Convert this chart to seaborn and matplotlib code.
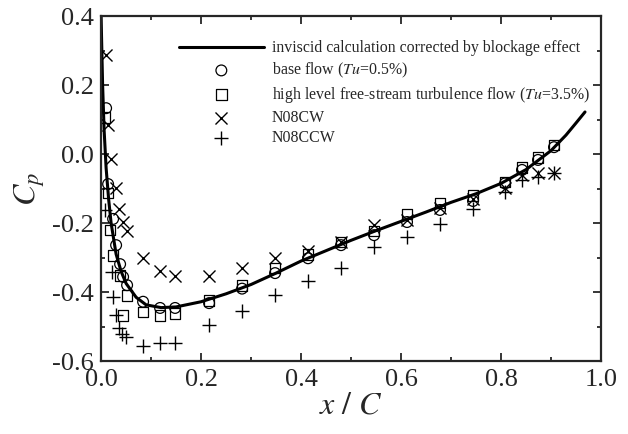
import numpy as np
import pandas as pd
import matplotlib
matplotlib.use('Agg')
import matplotlib.pyplot as plt
import seaborn as sns
from matplotlib.ticker import MultipleLocator

# curva no viscosa (corregida por bloqueo)
x_inv = [0, 0.001, 0.003, 0.006, 0.01, 0.015, 0.02, 0.03, 0.04, 0.05, 0.07, 0.09,
         0.12, 0.15, 0.2, 0.25, 0.3, 0.35, 0.4, 0.45, 0.5, 0.55, 0.6, 0.65, 0.7,
         0.75, 0.8, 0.85, 0.9, 0.93, 0.95, 0.968]
cp_inv = [0.40, 0.33, 0.20, 0.07, -0.04, -0.13, -0.20, -0.29, -0.34, -0.375, -0.415, -0.437,
          -0.445, -0.443, -0.428, -0.405, -0.378, -0.345, -0.31, -0.28, -0.25, -0.222, -0.195, -0.168, -0.14,
          -0.115, -0.085, -0.045, 0.01, 0.055, 0.09, 0.122]

# base flow (Tu=0.5%)
x_base = [0.010, 0.014, 0.024, 0.030, 0.038, 0.044, 0.052, 0.084, 0.118, 0.148, 0.216, 0.282,
          0.348, 0.414, 0.480, 0.546, 0.612, 0.678, 0.744, 0.808, 0.842, 0.874, 0.906]
cp_base = [0.133, -0.087, -0.188, -0.264, -0.319, -0.356, -0.380, -0.428, -0.446, -0.446, -0.432, -0.390,
           -0.345, -0.302, -0.264, -0.235, -0.197, -0.162, -0.136, -0.085, -0.046, -0.017, 0.020]

# alta turbulencia (Tu=3.5%)
x_tu = [0.008, 0.014, 0.018, 0.024, 0.038, 0.052, 0.044, 0.084, 0.118, 0.148, 0.216, 0.282,
        0.348, 0.414, 0.480, 0.546, 0.612, 0.678, 0.744, 0.808, 0.842, 0.874, 0.906]
cp_tu = [0.107, -0.113, -0.220, -0.295, -0.351, -0.409, -0.467, -0.458, -0.467, -0.461, -0.425, -0.380,
         -0.330, -0.290, -0.255, -0.223, -0.174, -0.142, -0.119, -0.081, -0.038, -0.011, 0.026]

# N08CW
x_cw = [0.010, 0.014, 0.020, 0.030, 0.036, 0.044, 0.052, 0.084, 0.118, 0.148, 0.216, 0.282,
        0.348, 0.414, 0.480, 0.546, 0.612, 0.678, 0.744, 0.808, 0.842, 0.874, 0.906]
cp_cw = [0.287, 0.084, -0.014, -0.099, -0.160, -0.197, -0.223, -0.302, -0.340, -0.352, -0.354, -0.330,
         -0.302, -0.281, -0.255, -0.206, -0.191, -0.157, -0.131, -0.099, -0.061, -0.055, -0.055]

# N08CCW
x_ccw = [0.008, 0.022, 0.024, 0.030, 0.036, 0.042, 0.050, 0.084, 0.118, 0.148, 0.216, 0.282,
         0.348, 0.414, 0.480, 0.546, 0.612, 0.678, 0.744, 0.808, 0.842, 0.874, 0.906]
cp_ccw = [-0.162, -0.342, -0.414, -0.467, -0.504, -0.522, -0.530, -0.555, -0.547, -0.547, -0.496, -0.455,
          -0.409, -0.368, -0.330, -0.270, -0.240, -0.203, -0.159, -0.110, -0.075, -0.067, -0.055]

sns.set_style("ticks")
plt.rcParams['font.family'] = ['Liberation Serif', 'DejaVu Serif']
plt.rcParams['mathtext.fontset'] = 'stix'

fig = plt.figure(figsize=(6.28, 4.34), dpi=100)
ax = fig.add_axes([0.161, 0.168, 0.796, 0.795])

sns.lineplot(x=x_inv, y=cp_inv, color='black', linewidth=2.2, sort=False, ax=ax,
             label='inviscid calculation corrected by blockage effect')
sns.scatterplot(x=x_base, y=cp_base, marker='o', s=60, facecolor='none', edgecolor='black',
                linewidth=0.9, ax=ax, label='base flow ($Tu$=0.5%)')
sns.scatterplot(x=x_tu, y=cp_tu, marker='s', s=60, facecolor='none', edgecolor='black',
                linewidth=0.9, ax=ax, label='high level free-stream turbulence flow ($Tu$=3.5%)')
sns.scatterplot(x=x_cw, y=cp_cw, marker='x', s=75, color='black', linewidth=1.0, ax=ax,
                label='N08CW')
sns.scatterplot(x=x_ccw, y=cp_ccw, marker='+', s=95, color='black', linewidth=1.0, ax=ax,
                label='N08CCW')

ax.set_xlim(0, 1.0)
ax.set_ylim(-0.6, 0.4)
ax.xaxis.set_major_locator(MultipleLocator(0.2))
ax.xaxis.set_minor_locator(MultipleLocator(0.1))
ax.yaxis.set_major_locator(MultipleLocator(0.2))
ax.yaxis.set_minor_locator(MultipleLocator(0.1))
ax.xaxis.set_major_formatter(plt.FuncFormatter(lambda v, p: f'{v:.1f}'))
ax.yaxis.set_major_formatter(plt.FuncFormatter(lambda v, p: f'{v:.1f}'))
ax.tick_params(which='both', direction='in', top=True, right=True, width=1.3)
ax.tick_params(which='major', length=6, labelsize=19)
ax.tick_params(axis='y', which='major', pad=5)
ax.tick_params(axis='x', which='major', pad=6)
ax.tick_params(which='minor', length=3)
for s in ax.spines.values():
    s.set_linewidth(1.6)

ax.set_xlabel(r'$x\ /\ C$', fontsize=23, labelpad=0)
ax.set_ylabel(r'$C_p$', fontsize=23, labelpad=4)

ax.legend(loc='upper left', bbox_to_anchor=(0.155, 0.93), frameon=False, fontsize=11.4,
          handlelength=5.4, handletextpad=0.5, labelspacing=0.3, borderpad=0, borderaxespad=0)

plt.savefig('out.png', dpi=100)
